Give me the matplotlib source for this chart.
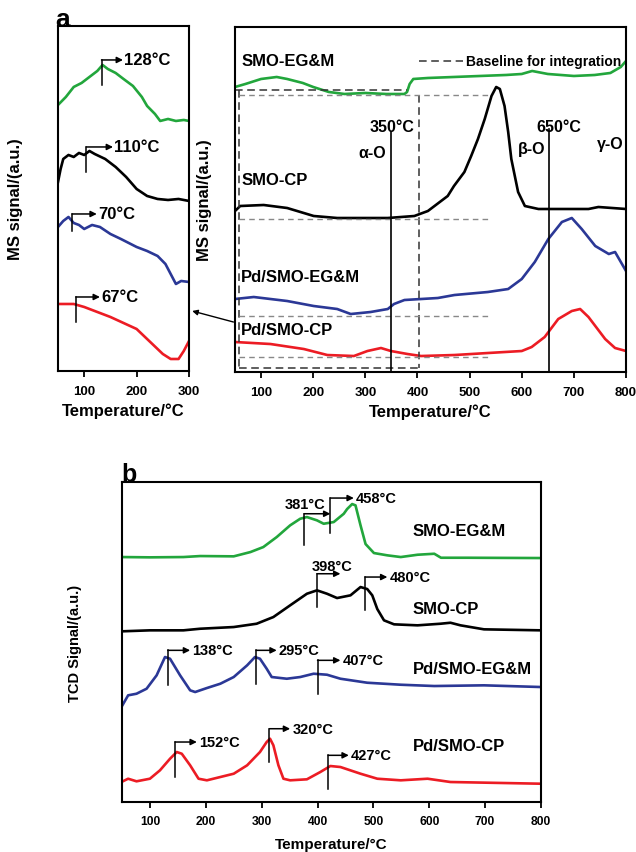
import numpy as np
import matplotlib
matplotlib.use('Agg')
import matplotlib.pyplot as plt

# ---- data (temperature in degC, signal in arbitrary units) ----
# panel a, left inset (50-300 C)
la_green_t = [50, 65, 80, 95, 110, 125, 135, 145, 160, 175, 193, 210, 220, 235, 245, 260, 275, 290, 300]
la_green_v = [266, 274, 284, 288, 294, 300, 306, 302, 298, 292, 285, 274, 265, 257, 250, 252, 250, 251, 250]
la_black_t = [50, 55, 60, 70, 80, 90, 100, 110, 120, 140, 160, 180, 200, 220, 240, 260, 280, 300]
la_black_v = [189, 202, 212, 216, 214, 218, 216, 220, 217, 212, 204, 194, 182, 175, 172, 171, 172, 170]
la_blue_t = [50, 60, 70, 80, 90, 100, 115, 130, 150, 170, 200, 220, 240, 255, 265, 275, 285, 300]
la_blue_v = [144, 150, 154, 148, 146, 142, 146, 144, 137, 132, 124, 120, 115, 107, 97, 87, 90, 89]
la_red_t = [50, 80, 100, 150, 200, 230, 250, 265, 280, 290, 300]
la_red_v = [67, 67, 64, 54, 42, 27, 17, 12, 12, 20, 30]

# panel a, main (50-800 C)
ra_green_t = [50, 70, 100, 130, 150, 180, 200, 230, 260, 300, 340, 375, 380, 385, 392, 420, 470,
              520, 570, 600, 620, 650, 700, 740, 770, 790, 800]
ra_green_v = [285, 288, 293, 295, 293, 289, 285, 280, 278, 279, 278, 278, 280, 288, 293, 294, 295,
              296, 297, 298, 301, 298, 296, 297, 299, 305, 311]
ra_black_t = [50, 60, 105, 150, 201, 246, 343, 394, 420, 458, 470, 490, 503, 516, 529, 542, 551,
              558, 567, 574, 580, 593, 606, 632, 728, 747, 800]
ra_black_v = [161, 166, 167, 164, 156, 154, 154, 156, 161, 176, 186, 200, 216, 233, 253, 276, 285,
              283, 266, 240, 213, 180, 166, 163, 163, 165, 163]
ra_blue_t = [50, 86, 150, 201, 246, 272, 310, 343, 355, 375, 439, 471, 535, 574, 600, 625, 651,
             677, 696, 715, 741, 767, 779, 800]
ra_blue_v = [73, 75, 71, 66, 63, 58, 60, 63, 68, 72, 74, 77, 80, 83, 93, 110, 133, 150, 154, 143,
             126, 118, 120, 101]
ra_red_t = [50, 118, 182, 227, 278, 304, 330, 349, 381, 407, 471, 535, 600, 619, 644, 670, 696,
            712, 728, 760, 779, 800]
ra_red_v = [30, 28, 23, 17, 16, 21, 24, 21, 18, 16, 17, 19, 21, 25, 35, 53, 61, 63, 55, 33, 24, 21]

# panel b, TPR (50-800 C)
b_green_t = [49, 100, 160, 190, 250, 280, 303, 327, 351, 369, 381, 399, 411, 429, 447, 453, 462,
             468, 477, 486, 501, 525, 549, 579, 609, 621, 668, 800]
b_green_v = [245, 244.7, 245, 246, 245.7, 250, 255, 265, 276.7, 283.3, 285, 281.7, 278.3, 280,
             288.3, 293, 298, 296.7, 276.7, 258, 249, 246.7, 245, 247.3, 248.3, 244.3, 244.3, 244]
b_black_t = [49, 100, 160, 190, 250, 291, 321, 351, 381, 399, 417, 435, 459, 477, 489, 498, 507,
             519, 537, 579, 620, 638, 656, 698, 800]
b_black_v = [170.7, 171.7, 171.7, 173.3, 175, 178.3, 185, 196.7, 208.3, 211.7, 208.3, 204, 206.7,
             215, 213, 206.7, 193, 181.7, 177.7, 176.7, 178.3, 179.3, 176.7, 172.7, 171.7]
b_blue_t = [49, 61, 76, 94, 112, 127, 136, 154, 172, 181, 202, 226, 250, 274, 288, 297, 309, 318,
            345, 369, 393, 417, 441, 489, 549, 609, 698, 800]
b_blue_v = [95, 106.7, 108.3, 113.3, 126.7, 145, 143.3, 126.7, 111.7, 110, 114, 118.3, 125, 136.7,
            145, 143.3, 133.3, 125, 123.3, 125, 128.3, 127.3, 123.3, 119.3, 117.3, 116, 116.7, 115]
b_red_t = [49, 61, 76, 100, 118, 136, 148, 157, 172, 187, 202, 226, 250, 274, 297, 309, 315, 321,
           330, 339, 351, 381, 405, 423, 441, 477, 507, 549, 597, 638, 800]
b_red_v = [20, 23.3, 20.7, 23.3, 31.7, 43.3, 50, 48.3, 36.7, 23.3, 21.7, 25, 28.3, 36.7, 50, 60,
           63.3, 56.7, 36.7, 23.3, 21.7, 22.7, 30, 36, 35, 28.3, 23.3, 21.7, 23.3, 20, 18.3]

samples = ['SMO-EG&M', 'SMO-CP', 'Pd/SMO-EG&M', 'Pd/SMO-CP']
la_peaks = ['128', '110', '70', '67']
b_peaks = ['381', '458', '398', '480', '138', '295', '407', '152', '320', '427']

# ---- style ----
green, blue, red = '#22a63c', '#2b3896', '#ec1c24'
plt.rcParams['font.family'] = ['Liberation Sans', 'DejaVu Sans']
plt.rcParams['font.weight'] = 'bold'
plt.rcParams['axes.linewidth'] = 1.5
plt.rcParams['xtick.major.width'] = 1.3
plt.rcParams['xtick.major.size'] = 4
plt.rcParams['xtick.direction'] = 'out'

fig = plt.figure(figsize=(6.36, 8.53), dpi=100)
axl = fig.add_axes([0.0912, 0.5639, 0.206, 0.4045])
axr = fig.add_axes([0.3695, 0.5627, 0.6148, 0.4045])
axb = fig.add_axes([0.1918, 0.0586, 0.6588, 0.3751])


def bracket(ax, x0, ylo, yhi, x1, lw=1.1):
    ax.plot([x0, x0], [ylo, yhi], 'k-', lw=lw)
    ax.annotate('', xy=(x1, yhi), xytext=(x0, yhi),
                arrowprops=dict(arrowstyle='-|>', color='k', lw=lw, mutation_scale=9,
                                shrinkA=0, shrinkB=0))


# ---- panel a, left ----
for t, v, c in [(la_green_t, la_green_v, green), (la_black_t, la_black_v, 'k'),
                (la_blue_t, la_blue_v, blue), (la_red_t, la_red_v, red)]:
    axl.plot(t, v, '-', color=c, lw=1.9)
axl.set_xlim(50, 300)
axl.set_ylim(0, 345)
axl.set_xticks([100, 200, 300])
axl.set_yticks([])
axl.tick_params(axis='x', labelsize=9.5, pad=6)
for (x0, ylo, yhi, x1), lab in zip([(133, 286, 311, 174), (104, 199, 224, 155),
                                    (77, 140, 157, 124), (84, 49, 74, 130)], la_peaks):
    bracket(axl, x0, ylo, yhi, x1)
    axl.text(x1 + 2, yhi, lab + '°C', fontsize=12, fontweight='bold', va='center', ha='left')
axl.set_ylabel('MS signal/(a.u.)', fontsize=12, fontweight='bold')
axl.yaxis.set_label_coords(-0.27, 0.5)
axl.set_xlabel('Temperature/°C', fontsize=12, fontweight='bold', va='top')
axl.xaxis.set_label_coords(0.5, -0.09)

# ---- panel a, right ----
for t, v, c in [(ra_green_t, ra_green_v, green), (ra_black_t, ra_black_v, 'k'),
                (ra_blue_t, ra_blue_v, blue), (ra_red_t, ra_red_v, red)]:
    axr.plot(t, v, '-', color=c, lw=1.9)
axr.set_xlim(50, 800)
axr.set_ylim(0, 345)
axr.set_xticks(np.arange(100, 801, 100))
axr.set_yticks([])
axr.tick_params(axis='x', labelsize=9.5, pad=6)

# integration boxes and baselines
dk = dict(color='#333333', lw=1.1, dashes=(5, 3))
gr = dict(color='#888888', lw=1.0, dashes=(4, 3))
axr.plot([50, 380], [282, 282], **dk)
axr.plot([58, 58], [282, 4], **dk)
axr.plot([58, 403], [4, 4], **dk)
axr.plot([403, 403], [277, 4], **dk)
for yb in [277, 153, 56, 15]:
    axr.plot([58, 535], [yb, yb], **gr)
axr.plot([403, 488], [311, 311], **dk)
axr.text(494, 311, 'Baseline for integration', fontsize=10, fontweight='bold', va='center')

axr.plot([350, 350], [0, 240], 'k-', lw=1.2)
axr.plot([652, 652], [0, 243], 'k-', lw=1.2)
axr.text(352, 245, '350°C', fontsize=11.5, fontweight='bold', ha='center', va='center')
axr.text(671, 245, '650°C', fontsize=11.5, fontweight='bold', ha='center', va='center')
axr.text(314, 219, 'α-O', fontsize=11.5, fontweight='bold', ha='center', va='center')
axr.text(619, 223, 'β-O', fontsize=11.5, fontweight='bold', ha='center', va='center')
axr.text(769, 228, 'γ-O', fontsize=11.5, fontweight='bold', ha='center', va='center')
for name, y in zip(samples, [311, 192, 96, 43]):
    axr.text(62, y, name, fontsize=12, fontweight='bold', va='center', ha='left')
axr.set_ylabel('MS signal/(a.u.)', fontsize=12, fontweight='bold')
axr.yaxis.set_label_coords(-0.059, 0.5)
axr.set_xlabel('Temperature/°C', fontsize=12, fontweight='bold', va='top')
axr.xaxis.set_label_coords(0.5, -0.09)

# arrow linking the main panel to the inset
axr.annotate('', xy=(306, 60), xycoords=axl.transData, xytext=(47, 50), textcoords=axr.transData,
             arrowprops=dict(arrowstyle='-|>', color='k', lw=1.0, mutation_scale=8,
                             shrinkA=0, shrinkB=0), annotation_clip=False)

fig.text(55 / 636, 1 - 27 / 853, 'a', fontsize=19, fontweight='bold', va='baseline')

# ---- panel b ----
for t, v, c in [(b_green_t, b_green_v, green), (b_black_t, b_black_v, 'k'),
                (b_blue_t, b_blue_v, blue), (b_red_t, b_red_v, red)]:
    axb.plot(t, v, '-', color=c, lw=1.9)
axb.set_xlim(50, 800)
axb.set_ylim(0, 320)
axb.set_xticks(np.arange(100, 801, 100))
axb.set_yticks([])
axb.tick_params(axis='x', labelsize=8.7, pad=5)

b_marks = [(376, 257, 288.3, 423), (423, 269, 304, 465), (399, 195, 228.3, 441),
           (485, 191.7, 225, 525), (132, 116.7, 151.7, 172), (290, 118, 151.7, 327),
           (400, 108, 141.7, 441), (145, 25, 60, 184), (314, 40, 73.3, 351),
           (419, 13.3, 46.7, 456)]
for (x0, ylo, yhi, x1), lab in zip(b_marks, b_peaks):
    bracket(axb, x0, ylo, yhi, x1)
    if lab == '381':
        axb.text(378, 298, lab + '°C', fontsize=10.5, fontweight='bold', ha='center', va='center')
    elif lab == '398':
        axb.text(427, 236, lab + '°C', fontsize=10.5, fontweight='bold', ha='center', va='center')
    else:
        axb.text(x1 + 4, yhi, lab + '°C', fontsize=10.5, fontweight='bold', ha='left', va='center')
for name, y in zip(samples, [271.7, 193.3, 133.3, 56.7]):
    axb.text(570, y, name, fontsize=12, fontweight='bold', va='center', ha='left')
axb.set_ylabel('TCD Signal/(a.u.)', fontsize=10.5, fontweight='bold')
axb.yaxis.set_label_coords(-0.095, 0.5)
axb.set_xlabel('Temperature/°C', fontsize=11, fontweight='bold', va='top')
axb.xaxis.set_label_coords(0.5, -0.11)
fig.text(121 / 636, 1 - 482 / 853, 'b', fontsize=18, fontweight='bold', va='baseline')

fig.savefig('out.png', dpi=100)
